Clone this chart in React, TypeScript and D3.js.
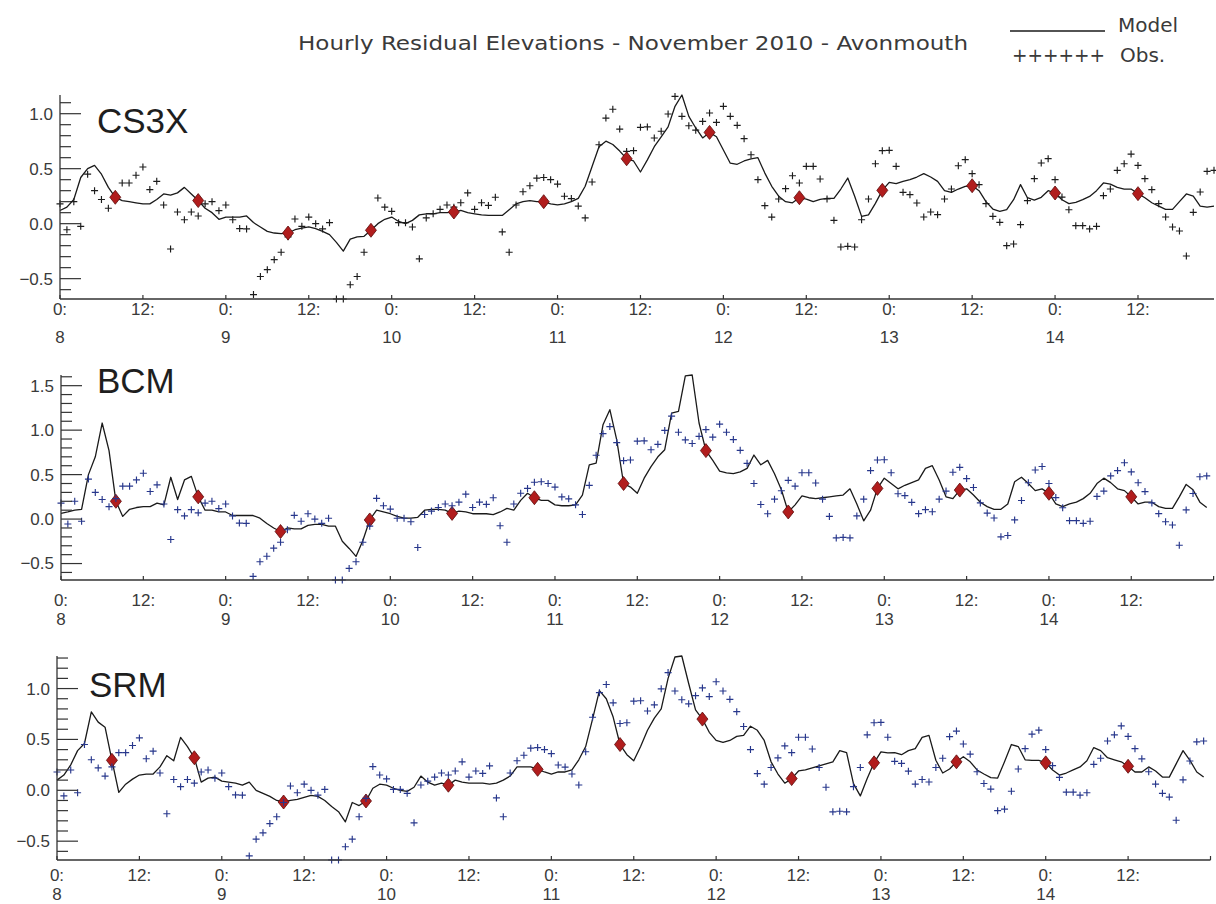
import React from 'react';
import * as d3 from 'd3';

// Hourly observed residuals at Avonmouth, 8 Nov 00:00 onwards (hour index 0..167)
const OBS = [
  0.18, -0.055, 0.2, -0.024, 0.45, 0.3, 0.22, 0.14, 0.23, 0.37, 0.37, 0.44,
  0.515, 0.31, 0.385, 0.17, -0.23, 0.106, 0.036, 0.106, 0.07, 0.18, 0.2, 0.118,
  0.17, 0.036, -0.045, -0.048, -0.645, -0.48, -0.418, -0.327, -0.26, -0.12, 0.042, -0.024,
  0.06, 0.0, -0.048, 0.009, -0.685, -0.685, -0.555, -0.48, -0.26, -0.08, 0.233, 0.15,
  0.112, 0.009, 0.009, -0.03, -0.32, 0.052, 0.09, 0.13, 0.17, 0.15, 0.19, 0.28,
  0.13, 0.19, 0.166, 0.24, -0.075, -0.26, 0.17, 0.29, 0.345, 0.414, 0.42, 0.4,
  0.36, 0.249, 0.228, 0.16, 0.052, 0.379, 0.718, 0.96, 1.04, 0.86, 0.657, 0.664,
  0.876, 0.88, 0.779, 0.84, 0.997, 1.157, 0.976, 0.89, 0.85, 0.93, 1.006, 0.921,
  1.067, 0.976, 0.894, 0.773, 0.627, 0.4, 0.164, 0.06, 0.224, 0.318, 0.436, 0.37,
  0.521, 0.521, 0.406, 0.224, 0.03, -0.212, -0.206, -0.212, 0.036, 0.224, 0.545, 0.664,
  0.667, 0.521, 0.285, 0.264, 0.188, 0.061, 0.106, 0.082, 0.224, 0.315, 0.527, 0.582,
  0.455, 0.355, 0.182, 0.067, 0.012, -0.2, -0.185, -0.009, 0.209, 0.409, 0.552, 0.591,
  0.4, 0.242, 0.127, -0.018, -0.018, -0.048, -0.024, 0.255, 0.315, 0.485, 0.545, 0.633,
  0.53, 0.409, 0.309, 0.182, 0.061, -0.03, -0.067, -0.294, 0.103, 0.288, 0.476, 0.485,
];

// Modelled residuals, same hours
const CS3X = [
  0.12, 0.15, 0.22, 0.42, 0.5, 0.53, 0.45, 0.33, 0.24, 0.21, 0.2, 0.19,
  0.18, 0.18, 0.22, 0.27, 0.26, 0.28, 0.33, 0.27, 0.21, 0.14, 0.1, 0.04,
  0.06, 0.06, 0.06, 0.07, 0.01, -0.03, -0.07, -0.085, -0.09, -0.085, -0.055, -0.04,
  -0.03, -0.045, -0.07, -0.1, -0.17, -0.25, -0.14, -0.12, -0.115, -0.06, 0.0, 0.04,
  0.06, 0.02, 0.0, 0.03, 0.08, 0.09, 0.09, 0.1, 0.1, 0.106, 0.12, 0.1,
  0.09, 0.08, 0.075, 0.075, 0.075, 0.127, 0.18, 0.2, 0.21, 0.2, 0.2, 0.18,
  0.17, 0.18, 0.2, 0.23, 0.34, 0.52, 0.7, 0.75, 0.72, 0.66, 0.59, 0.57,
  0.47, 0.58, 0.7, 0.79, 0.88, 1.067, 1.17, 0.976, 0.87, 0.78, 0.83, 0.79,
  0.67, 0.55, 0.54, 0.57, 0.59, 0.6, 0.46, 0.34, 0.25, 0.2, 0.19, 0.236,
  0.224, 0.2, 0.22, 0.23, 0.23, 0.315, 0.415, 0.25, 0.066, 0.08, 0.185, 0.303,
  0.376, 0.364, 0.385, 0.4, 0.424, 0.455, 0.424, 0.385, 0.3, 0.285, 0.315, 0.34,
  0.345, 0.3, 0.2, 0.133, 0.112, 0.127, 0.218, 0.355, 0.236, 0.215, 0.24, 0.3,
  0.279, 0.218, 0.182, 0.194, 0.218, 0.248, 0.3, 0.37, 0.36, 0.33, 0.315, 0.315,
  0.273, 0.236, 0.19, 0.16, 0.13, 0.13, 0.2, 0.27, 0.25, 0.16, 0.15, 0.16,
];

const BCM = [
  0.065, 0.08, 0.1, 0.11, 0.5, 0.7, 1.08, 0.77, 0.2, 0.03, 0.11, 0.13,
  0.14, 0.14, 0.18, 0.16, 0.47, 0.22, 0.44, 0.48, 0.25, 0.1, 0.1, 0.08,
  0.08, 0.04, 0.04, 0.04, 0.04, 0.01, -0.05, -0.1, -0.14, -0.1, -0.11, -0.11,
  -0.07, -0.06, -0.06, -0.08, -0.08, -0.25, -0.33, -0.42, -0.24, -0.01, 0.1, 0.08,
  0.06, 0.03, 0.01, 0.01, 0.02, 0.1, 0.11, 0.11, 0.1, 0.064, 0.09, 0.08,
  0.06, 0.06, 0.06, 0.05, 0.08, 0.12, 0.1, 0.21, 0.29, 0.24, 0.21, 0.21,
  0.16, 0.15, 0.15, 0.16, 0.27, 0.61, 0.63, 1.06, 1.23, 0.89, 0.4, 0.36,
  0.29, 0.46, 0.59, 0.7, 0.78, 1.19, 1.21, 1.61, 1.62, 1.08, 0.77, 0.66,
  0.54, 0.52, 0.51, 0.53, 0.57, 0.72, 0.61, 0.66, 0.51, 0.33, 0.08, 0.16,
  0.26, 0.24, 0.23, 0.24, 0.25, 0.26, 0.27, 0.34, 0.17, -0.02, 0.1, 0.345,
  0.46, 0.4, 0.34, 0.38, 0.41, 0.44, 0.57, 0.6, 0.44, 0.25, 0.23, 0.326,
  0.34, 0.27, 0.19, 0.14, 0.11, 0.11, 0.17, 0.42, 0.47, 0.4, 0.32, 0.34,
  0.29, 0.17, 0.14, 0.17, 0.19, 0.23, 0.29, 0.4, 0.46, 0.41, 0.34, 0.32,
  0.25, 0.17, 0.19, 0.19, 0.14, 0.12, 0.12, 0.25, 0.39, 0.33, 0.19, 0.13,
];

const SRM = [
  0.1, 0.15, 0.25, 0.39, 0.46, 0.77, 0.67, 0.62, 0.295, -0.02, 0.06, 0.11,
  0.15, 0.16, 0.16, 0.23, 0.34, 0.29, 0.52, 0.43, 0.32, 0.08, 0.12, 0.13,
  0.09, 0.08, 0.07, 0.05, 0.08, 0.0, -0.03, -0.06, -0.1, -0.115, -0.1, -0.09,
  -0.07, -0.05, -0.06, -0.1, -0.16, -0.21, -0.31, -0.12, -0.15, -0.105, 0.02, 0.06,
  0.05, 0.02, 0.0, -0.01, 0.03, 0.14, 0.08, 0.05, 0.07, 0.05, 0.1, 0.08,
  0.07, 0.07, 0.07, 0.06, 0.07, 0.1, 0.14, 0.23, 0.23, 0.23, 0.206, 0.18,
  0.16, 0.18, 0.18, 0.2, 0.3, 0.43, 0.7, 0.98, 0.9, 0.72, 0.45, 0.35,
  0.29, 0.43, 0.59, 0.71, 0.8, 1.1, 1.31, 1.32, 1.05, 0.79, 0.7, 0.57,
  0.49, 0.47, 0.49, 0.53, 0.54, 0.63, 0.59, 0.49, 0.28, 0.16, 0.07, 0.115,
  0.19, 0.2, 0.22, 0.24, 0.26, 0.28, 0.39, 0.37, 0.066, -0.055, 0.115, 0.27,
  0.377, 0.367, 0.37, 0.35, 0.39, 0.41, 0.52, 0.54, 0.295, 0.17, 0.21, 0.28,
  0.33, 0.28, 0.2, 0.16, 0.125, 0.12, 0.28, 0.45, 0.43, 0.3, 0.295, 0.295,
  0.27, 0.2, 0.15, 0.17, 0.2, 0.23, 0.29, 0.42, 0.39, 0.32, 0.3, 0.28,
  0.236, 0.18, 0.18, 0.23, 0.19, 0.13, 0.13, 0.26, 0.39, 0.295, 0.18, 0.13,
];

// Hours of high water for each model run (marked with diamonds)
const HW_CS3X = [8, 20, 33, 45, 57, 70, 82, 94, 107, 119, 132, 144, 156];
const HW_BCM = [8, 20, 32, 45, 57, 69, 82, 94, 106, 119, 131, 144, 156];
const HW_SRM = [8, 20, 33, 45, 57, 70, 82, 94, 107, 119, 131, 144, 156];

const FIRST_DAY = 8;
const TITLE = 'Hourly Residual Elevations - November 2010 - Avonmouth';
const LEGEND_MODEL = 'Model';
const LEGEND_OBS = 'Obs.';

const W = 1216;
const H = 904;

const PANELS = [
  {
    name: 'CS3X', model: CS3X, hw: HW_CS3X, obsColor: '#1c1c1c', obsOnTop: false,
    x0: 60, x1: 1214, xMax: 167, top: 95, bottom: 299,
    labelX: 97, labelY: 133, tickDy: 16, dayDy: 44,
  },
  {
    name: 'BCM', model: BCM, hw: HW_BCM, obsColor: '#27378c', obsOnTop: true,
    x0: 61, x1: 1213.6, xMax: 168, top: 375, bottom: 580,
    labelX: 97, labelY: 393, tickDy: 26, dayDy: 45,
  },
  {
    name: 'SRM', model: SRM, hw: HW_SRM, obsColor: '#27378c', obsOnTop: true,
    x0: 57, x1: 1210.5, xMax: 168, top: 656, bottom: 860,
    labelX: 89, labelY: 697, tickDy: 21, dayDy: 40,
  },
];

const AXIS = '#333';
const TICK_FONT = '"Liberation Sans", Arial, sans-serif';
const TEXT_FONT = '"DejaVu Sans", sans-serif';

const PLUS = 'M-3.5,0H3.5M0,-3.5V3.5';
const DIAMOND = 'M0,-7L5.5,0L0,7L-5.5,0Z';

function fmt(v: number) {
  const s = v.toFixed(1);
  return v < -1e-9 ? '\u2212' + s.slice(1) : s.replace('-', '');
}

function Panel({ p }: { p: (typeof PANELS)[number] }) {
  const x = d3.scaleLinear().domain([0, p.xMax]).range([p.x0, p.x1]);
  const ext = d3.extent([...OBS, ...p.model]) as [number, number];
  const y = d3.scaleLinear().domain(ext).range([p.bottom, p.top]);

  const line = d3
    .line<number>()
    .x((_, i) => x(i))
    .y((d) => y(d));

  const kLo = Math.ceil(ext[0] * 10 - 1e-9);
  const kHi = Math.floor(ext[1] * 10 + 1e-9);
  const yTicks = d3.range(kLo, kHi + 1);
  const xTicks = d3.range(0, p.xMax + 0.001, 12);

  const obsMarks = (
    <g stroke={p.obsColor} strokeWidth={1.15} fill="none">
      {OBS.map((v, i) => (
        <path key={i} d={PLUS} transform={`translate(${x(i)},${y(v)})`} />
      ))}
    </g>
  );
  const hwMarks = (
    <g fill="#b11d1d" stroke="#5c0b0b" strokeWidth={0.8}>
      {p.hw.map((h) => (
        <path key={h} d={DIAMOND} transform={`translate(${x(h)},${y(p.model[h])})`} />
      ))}
    </g>
  );

  return (
    <g>
      <path d={line(p.model) ?? ''} fill="none" stroke="#1a1a1a" strokeWidth={1.3} strokeLinejoin="round" />
      {p.obsOnTop ? hwMarks : obsMarks}
      {p.obsOnTop ? obsMarks : hwMarks}

      {/* y axis */}
      <line x1={p.x0} x2={p.x0} y1={p.bottom} y2={p.top} stroke={AXIS} strokeWidth={1.3} />
      {yTicks.map((k) => {
        const major = k % 5 === 0;
        const yy = y(k / 10);
        return (
          <g key={k}>
            <line x1={p.x0} x2={p.x0 + (major ? 21 : 11)} y1={yy} y2={yy} stroke={AXIS} strokeWidth={1.2} />
            {major && (
              <text x={p.x0 - 7} y={yy} dy="0.35em" textAnchor="end" fontFamily={TICK_FONT} fontSize={17} fill="#3a3a3a">
                {fmt(k / 10)}
              </text>
            )}
          </g>
        );
      })}

      {/* x axis: a tick every 12 h, labels on all but the closing tick */}
      <line x1={p.x0} x2={p.x1} y1={p.bottom} y2={p.bottom} stroke={AXIS} strokeWidth={1.3} />
      {xTicks.map((h) => {
        const xx = x(h);
        const labelled = h <= 156;
        return (
          <g key={h}>
            <line x1={xx} x2={xx} y1={p.bottom} y2={p.bottom - 4} stroke={AXIS} strokeWidth={1.2} />
            {labelled && (
              <text x={xx} y={p.bottom + p.tickDy} textAnchor="middle" fontFamily={TICK_FONT} fontSize={17} fill="#3a3a3a">
                {h % 24 === 0 ? '0:' : '12:'}
              </text>
            )}
            {labelled && h % 24 === 0 && (
              <text x={xx} y={p.bottom + p.dayDy} textAnchor="middle" fontFamily={TICK_FONT} fontSize={17} fill="#3a3a3a">
                {String(FIRST_DAY + h / 24)}
              </text>
            )}
          </g>
        );
      })}

      <text x={p.labelX} y={p.labelY} fontFamily={TICK_FONT} fontSize={35} fill="#1e1e1e">
        {p.name}
      </text>
    </g>
  );
}

export default function App() {
  return (
    <svg
      width={W}
      height={H}
      viewBox={`0 0 ${W} ${H}`}
      style={{ position: 'absolute', left: 0, top: 0, background: '#fff' }}
    >
      <rect width={W} height={H} fill="#fff" />
      <text x={298} y={50} fontFamily={TEXT_FONT} fontSize={20} fill="#3a3a3a" textLength={670} lengthAdjust="spacingAndGlyphs">
        {TITLE}
      </text>

      {/* legend */}
      <line x1={1010} x2={1105} y1={31} y2={31} stroke="#1a1a1a" strokeWidth={1.3} />
      <text x={1118} y={31.5} fontFamily={TEXT_FONT} fontSize={20} fill="#3a3a3a">
        {LEGEND_MODEL}
      </text>
      <text x={1012} y={61.5} fontFamily={TEXT_FONT} fontSize={20} fill="#3a3a3a" textLength={93} lengthAdjust="spacingAndGlyphs">
        ++++++
      </text>
      <text x={1120} y={61.5} fontFamily={TEXT_FONT} fontSize={20} fill="#3a3a3a">
        {LEGEND_OBS}
      </text>

      {PANELS.map((p) => (
        <Panel key={p.name} p={p} />
      ))}
    </svg>
  );
}
